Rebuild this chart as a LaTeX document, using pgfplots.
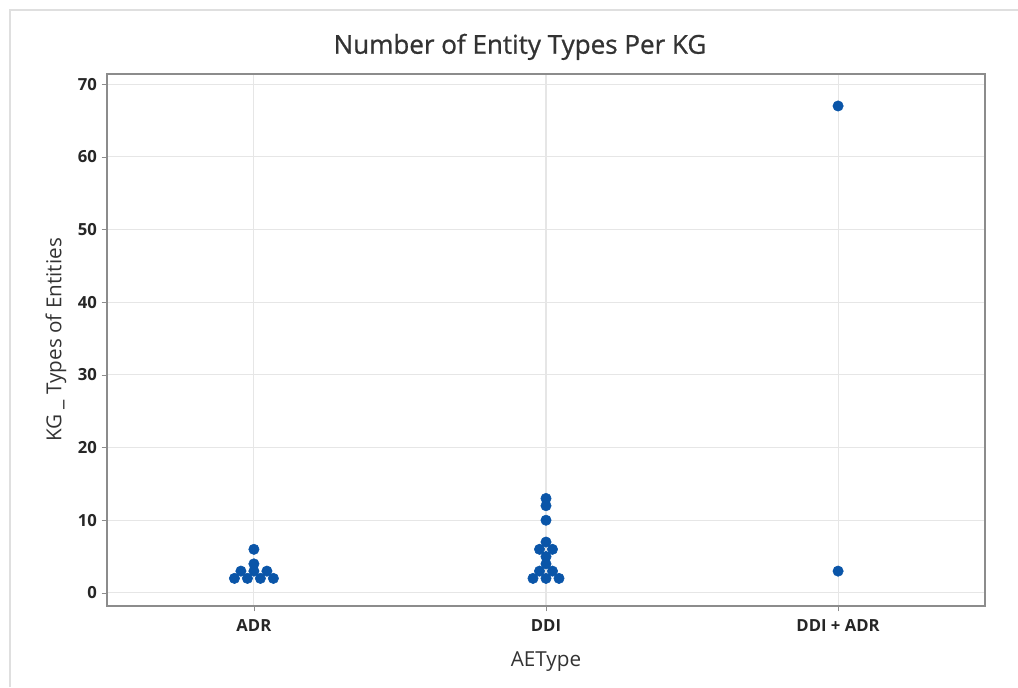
\documentclass[border=0pt]{standalone}
\usepackage{pgfplots}
\pgfplotsset{compat=1.18}
\usepackage{fontspec}
\setmainfont{Open Sans}
\newfontfamily\titlefont{Open Sans}[FakeBold=0.9]
\definecolor{dotblue}{HTML}{0A55A8}
\definecolor{gridc}{HTML}{E6E6E6}
\definecolor{framec}{HTML}{8C8C8C}
\begin{document}
\begin{tikzpicture}
\path[use as bounding box] (-80.25pt,-60.75pt) rectangle (683.25pt,454.5pt);
\draw[gray!25, line width=0.8pt] (-72.75pt,-60.75pt) -- (-72.75pt,447pt) -- (683.25pt,447pt);
\begin{axis}[
  scale only axis,
  width=658.5pt, height=399pt,
  xmin=-0.503, xmax=2.503,
  ymin=-1.8, ymax=71.4,
  xtick={0,1,2},
  xticklabels={ADR,DDI,DDI + ADR},
  ytick={0,10,...,70},
  grid=major,
  major grid style={gridc, line width=0.8pt},
  axis line style={framec, line width=0.8pt},
  tick style={framec},
  major tick length=4pt,
  tick align=outside,
  xtick pos=bottom, ytick pos=left,
  ticklabel style={font=\fontsize{12.5}{15}\selectfont\bfseries, text=black!85},
  xticklabel style={yshift=-3pt},
  /pgf/number format/assume math mode=true,
  title={Number of Entity Types Per KG},
  title style={font=\titlefont\fontsize{19.5}{23}\selectfont, text=black!80, yshift=1pt, xshift=-19.5pt},
  xlabel={AEType},
  ylabel={KG\ \_\ Types of Entities},
  label style={font=\fontsize{15.5}{18}\selectfont, text=black!80},
  xlabel style={yshift=-8pt},
  ylabel style={at={(axis description cs:-0.058,0.5)}, anchor=center},
]
\addplot[only marks, mark=*, mark size=3.9pt, draw=dotblue, fill=dotblue] coordinates {
  (-0.0667,2) (-0.0222,2) (0.0222,2) (0.0667,2)
  (-0.0445,3) (0,3) (0.0445,3)
  (0,4) (0,6)
  (0.9555,2) (1,2) (1.0445,2)
  (0.9778,3) (1.0222,3)
  (1,4) (1,5)
  (0.9778,6) (1.0222,6)
  (1,7) (1,10) (1,12) (1,13)
  (2,67) (2,3)
};
\end{axis}
\end{tikzpicture}
\end{document}
